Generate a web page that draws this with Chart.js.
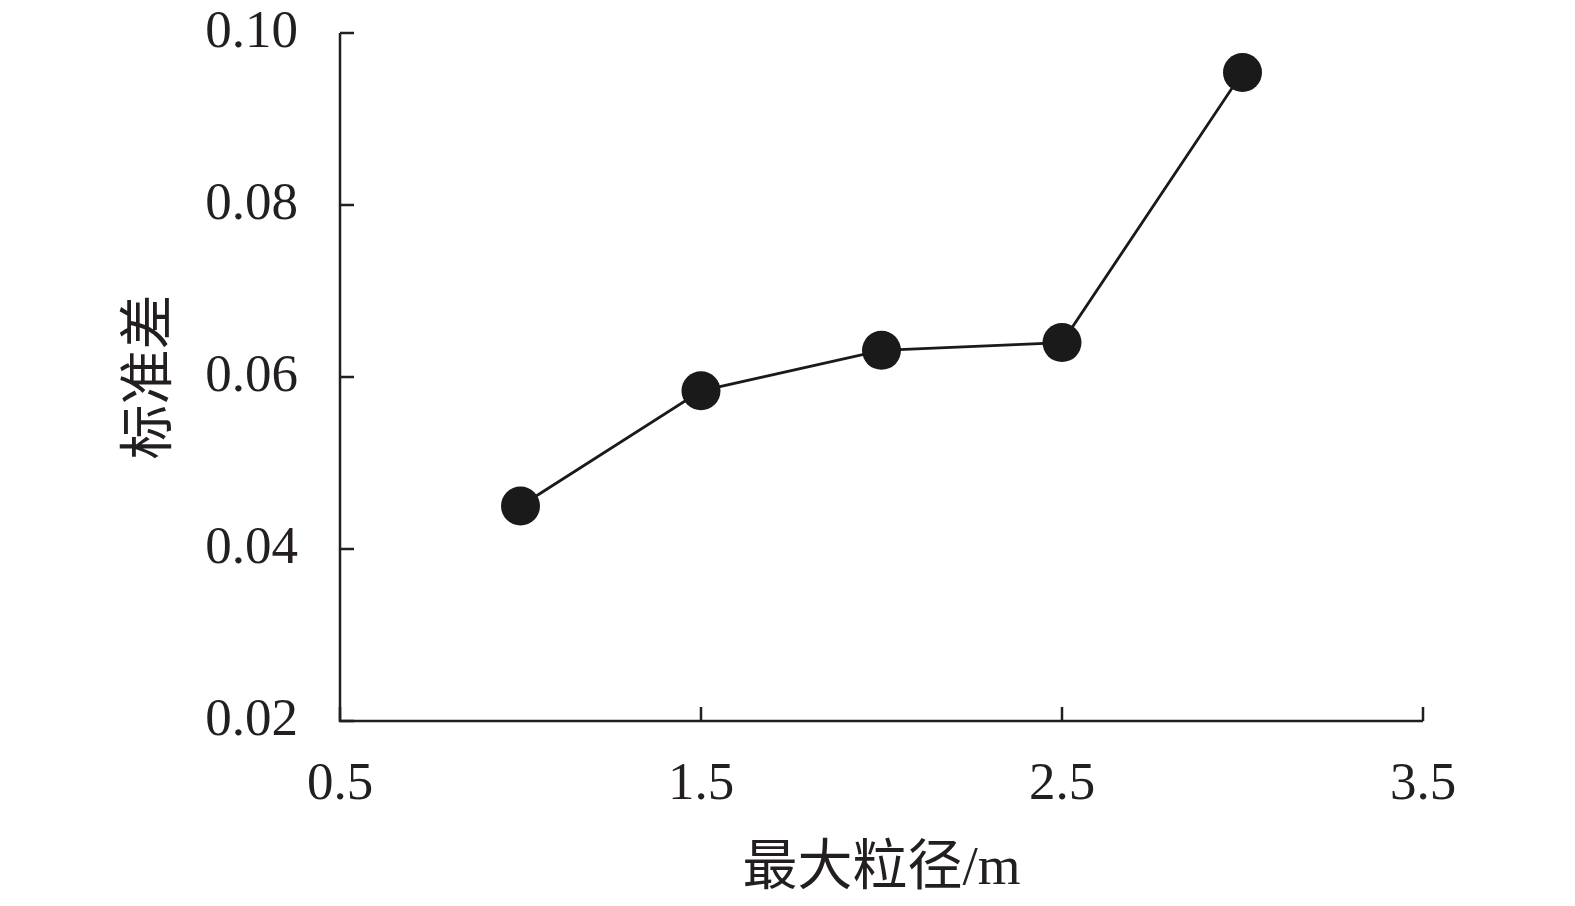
<!DOCTYPE html>
<html><head><meta charset="utf-8">
<script src="https://cdn.jsdelivr.net/npm/chart.js@4.4.1/dist/chart.umd.min.js"></script>
<style>html,body{margin:0;padding:0;background:#fff;}#wrap{width:1575px;height:906px;}</style>
</head><body><div id="wrap"><canvas id="c" width="1575" height="906"></canvas></div>
<script>
const xValues = [1.0, 1.5, 2.0, 2.5, 3.0];
const yValues = [0.0450, 0.0584, 0.0631, 0.0640, 0.0954];
const xTicks = [0.5, 1.5, 2.5, 3.5];
const yTicks = [0.02, 0.04, 0.06, 0.08, 0.10];
const xTitle = '最大粒径/m';
const yTitle = '标准差';

const INK = '#231f20';
const tickFont = {family: '"Liberation Serif", "Times New Roman", serif', size: 53};
const titleFont = {family: '"Liberation Serif", "Noto Sans CJK SC", serif', size: 55};

const innerTicks = {
  id: 'innerTicks',
  afterDraw(chart) {
    const ctx = chart.ctx, a = chart.chartArea;
    const xs = chart.scales.x, ys = chart.scales.y;
    ctx.save();
    ctx.strokeStyle = INK; ctx.lineWidth = 2.5; ctx.lineCap = 'butt';
    ctx.beginPath();
    ctx.moveTo(a.left, a.top); ctx.lineTo(a.left, a.bottom); ctx.lineTo(a.right, a.bottom);
    ctx.stroke();
    ctx.beginPath();
    yTicks.forEach(v => { const y = ys.getPixelForValue(v); ctx.moveTo(a.left, y); ctx.lineTo(a.left + 14, y); });
    xTicks.forEach(v => { const x = xs.getPixelForValue(v); ctx.moveTo(x, a.bottom); ctx.lineTo(x, a.bottom - 14); });
    ctx.stroke();
    ctx.restore();
  }
};

new Chart(document.getElementById('c'), {
  type: 'line',
  data: {
    datasets: [{
      data: xValues.map((x, i) => ({x: x, y: yValues[i]})),
      borderColor: '#1a1a1a', borderWidth: 2.8,
      pointRadius: 19.5, pointHoverRadius: 19.5,
      pointBackgroundColor: '#1a1a1a', pointBorderColor: '#1a1a1a', pointBorderWidth: 0,
      tension: 0, clip: false
    }]
  },
  options: {
    responsive: false, animation: false,
    devicePixelRatio: 1,
    layout: {padding: {top: 33, right: 152, left: 0, bottom: 0}},
    plugins: {legend: {display: false}, tooltip: {enabled: false}},
    scales: {
      x: {
        type: 'linear', min: 0.5, max: 3.5,
        afterBuildTicks: s => { s.ticks = xTicks.map(v => ({value: v})); },
        afterFit: s => { s.height = 185; s.paddingLeft = 0; s.paddingRight = 0; },
        grid: {display: false, drawTicks: false},
        border: {display: false},
        ticks: {font: tickFont, color: INK, padding: 32, maxRotation: 0,
                callback: v => v.toFixed(1)},
        title: {display: true, text: xTitle, font: titleFont, color: INK, padding: {top: 0, bottom: 3}}
      },
      y: {
        type: 'linear', min: 0.02, max: 0.10,
        afterBuildTicks: s => { s.ticks = yTicks.map(v => ({value: v})); },
        afterFit: s => { s.width = 340; s.paddingTop = 0; s.paddingBottom = 0; },
        grid: {display: false, drawTicks: false},
        border: {display: false},
        ticks: {font: tickFont, color: INK, padding: 42,
                callback: v => v.toFixed(2)},
        title: {display: true, text: yTitle, font: titleFont, color: INK, padding: {top: 119, bottom: 0}}
      }
    }
  },
  plugins: [innerTicks]
});
</script></body></html>
